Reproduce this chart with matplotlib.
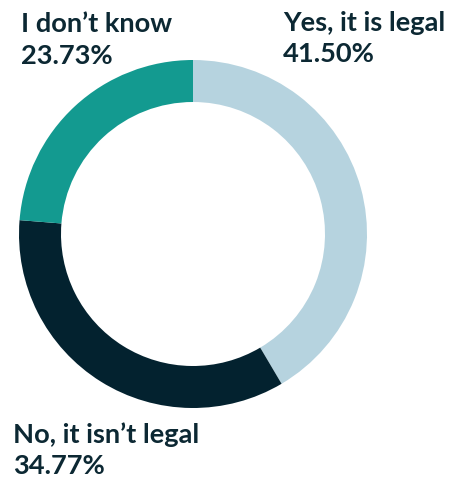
import matplotlib
matplotlib.use("Agg")
import matplotlib.pyplot as plt

# Survey answers, drawn clockwise from 12 o'clock
answers = ["Yes, it is legal", "No, it isn't legal", "I don\u2019t know"]
shares = [41.50, 34.77, 23.73]
colors = ["#b6d3df", "#03222f", "#139a90"]
label_lines = [
    ("Yes, it is legal", "41.50%"),
    ("No, it isn\u2019t legal", "34.77%"),
    ("I don\u2019t know", "23.73%"),
]

W, H = 449, 480
fig = plt.figure(figsize=(W / 100, H / 100), dpi=100)
ax = fig.add_axes([0, 0, 1, 1])

cx, cy, R = 193, H - 234, 174
ax.pie(shares, colors=colors, startangle=90, counterclock=False,
       center=(cx, cy), radius=R,
       wedgeprops=dict(width=42, linewidth=0))
ax.set_xlim(0, W)
ax.set_ylim(0, H)
ax.set_aspect("equal")
ax.axis("off")

text_color = "#0c2833"
font = dict(family="Lato", weight="bold", size=19.6, color=text_color)
# label anchor (x, first baseline) in pixel space from the top-left
anchors = [(283, 31), (13, 443), (21, 32)]
for (x, y), (name, pct) in zip(anchors, label_lines):
    ax.text(x, H - y, name, ha="left", va="baseline", **font)
    ax.text(x, H - y - 31.5, pct, ha="left", va="baseline", **font)

fig.savefig("out.png", dpi=100)
